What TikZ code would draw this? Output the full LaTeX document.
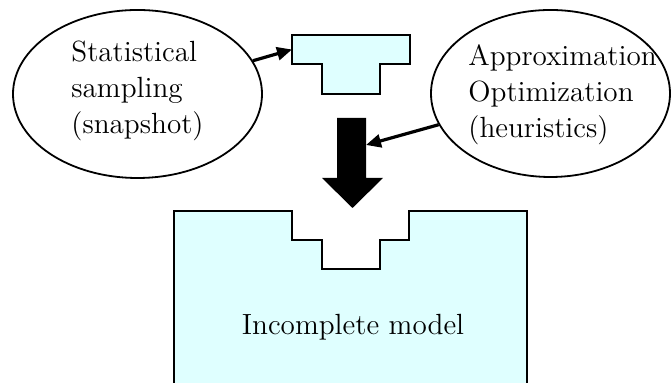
\documentclass[tikz,border=0pt]{standalone}
\usepackage{tikz}
\usetikzlibrary{shapes.geometric,arrows.meta}
\definecolor{piececyan}{RGB}{223,255,255}

\begin{document}
\begin{tikzpicture}[x=0.5pt, y=-0.5pt,
    >={Triangle[length=7.5pt,width=6.5pt]},
    blob/.style={draw, ellipse, line width=0.9pt, inner sep=0pt},
    blobtext/.style={align=left, anchor=west, inner sep=0pt,
        font=\fontsize{14.6}{18}\selectfont},
    feed/.style={->, line width=1.6pt},
    part/.style={draw, fill=piececyan, line width=1pt, line join=miter}]
    \useasboundingbox (0,0) rectangle (671,383);
    \clip (0,0) rectangle (671,383);
    % Model
    \draw[part] (174,430) -- (174,211) -- (292,211) -- (292,240)
        -- (322,240) -- (322,269) -- (380,269) -- (380,240)
        -- (409,240) -- (409,211) -- (527,211) -- (527,430) -- cycle;
    \node[anchor=base,
        inner sep=0pt,
        font=\fontsize{14.6}{18}\selectfont
    ]  (ModelText) at (353,335) {Incomplete model};
    % Piece
    \draw[part] (292,35) -- (410,35) -- (410,64) -- (380,64)
        -- (380,94) -- (322,94) -- (322,64) -- (292,64) -- cycle;
    \coordinate (PieceIn) at (292,49.5);
    % Push
    \fill (337,118) -- (366,118) -- (366,178) -- (383,178)
        -- (352.5,208) -- (322,178) -- (337,178) -- cycle;
    \coordinate (PushHit) at (366,145);
    % Sampling
    \node[blob,
        minimum width=124.5pt,
        minimum height=84pt
    ]  (Sampling) at (137.5,94) {};
    \node[blobtext] (SamplingText) at (71,90.5) {Statistical\\sampling\\(snapshot)};
    \draw[feed] (Sampling) -- (PieceIn);
    % Heuristics
    \node[blob,
        minimum width=119.5pt,
        minimum height=83.5pt
    ]  (Heuristics) at (550.5,93.5) {};
    \node[blobtext] (HeuristicsText) at (468,94.5) {Approximation\\Optimization\\(heuristics)};
    \draw[feed] (Heuristics) -- (PushHit);
\end{tikzpicture}
\end{document}
